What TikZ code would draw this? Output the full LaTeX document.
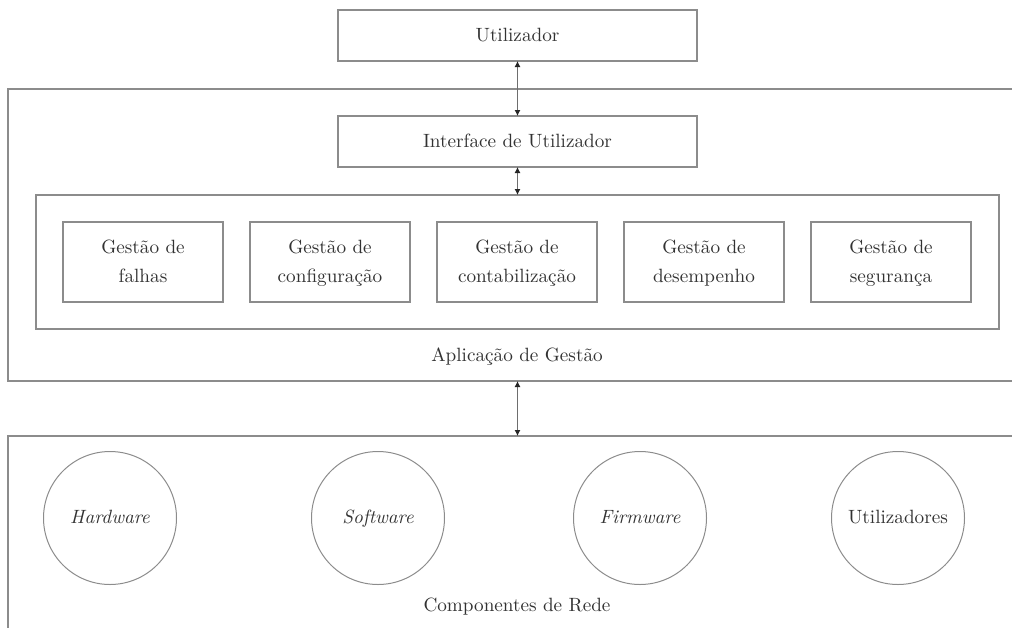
\documentclass[tikz,border=0pt]{standalone}
\usetikzlibrary{arrows.meta}
\definecolor{linegray}{RGB}{140,140,140}
\definecolor{textgray}{RGB}{50,50,50}
\definecolor{arrowgray}{RGB}{110,110,110}
% text set at 10pt and enlarged, keeping the 10pt design size
\newcommand\mytxt[1]{\scalebox{1.92}{\def\arraystretch{1.25}\begin{tabular}{@{}c@{}}#1\end{tabular}}}
\begin{document}
\begin{tikzpicture}[x=1pt,y=-1pt,
  box/.style={draw=linegray,line width=1.1pt,rectangle,inner sep=0pt,outer sep=0pt,text=textgray},
  disc/.style={draw=linegray,line width=1pt,circle,inner sep=0pt,outer sep=0pt,minimum size=133pt,text=textgray},
  lbl/.style={inner sep=0pt,text=textgray},
  biarrow/.style={draw=arrowgray,line width=1pt,{Latex[length=6pt,width=6pt,color=black!85]}-{Latex[length=6pt,width=6pt,color=black!85]}}]
\useasboundingbox (0,0) rectangle (1012,627);
\clip (0,0) rectangle (1012,627);

% top level
\node[box,minimum width=359pt,minimum height=51pt] (user) at (517.5,35.5) {\mytxt{Utilizador}};

% management application frame
\node[box,minimum width=1022pt,minimum height=292pt] (app) at (519,235) {};
\node[box,minimum width=359pt,minimum height=51pt] (iface) at (517.5,141.5) {\mytxt{Interface de Utilizador}};
\node[box,minimum width=963pt,minimum height=134pt] (inner) at (517.5,262) {};
\node[box,minimum width=160pt,minimum height=80pt] (f1) at (143,262) {\mytxt{Gestão de\\falhas}};
\node[box,minimum width=160pt,minimum height=80pt] (f2) at (330,262) {\mytxt{Gestão de\\configuração}};
\node[box,minimum width=160pt,minimum height=80pt] (f3) at (517,262) {\mytxt{Gestão de\\contabilização}};
\node[box,minimum width=160pt,minimum height=80pt] (f4) at (704,262) {\mytxt{Gestão de\\desempenho}};
\node[box,minimum width=160pt,minimum height=80pt] (f5) at (891,262) {\mytxt{Gestão de\\segurança}};
\node[lbl] (applbl) at (517,356) {\mytxt{Aplicação de Gestão}};

% network components frame
\node[box,minimum width=1022pt,minimum height=214pt] (comp) at (519,543) {};
\node[disc] (hw) at (110,518) {\mytxt{\itshape Hardware}};
\node[disc] (sw) at (378,518) {\mytxt{\itshape Software}};
\node[disc] (fw) at (640,518) {\mytxt{\itshape Firmware}};
\node[disc] (us) at (898,518) {\mytxt{Utilizadores}};
\node[lbl] (complbl) at (517,606) {\mytxt{Componentes de Rede}};

% connectors
\draw[biarrow] (user.south) -- (iface.north);
\draw[biarrow] (iface.south) -- (iface.south |- inner.north);
\draw[biarrow] (iface.south |- app.south) -- (iface.south |- comp.north);
\end{tikzpicture}
\end{document}
